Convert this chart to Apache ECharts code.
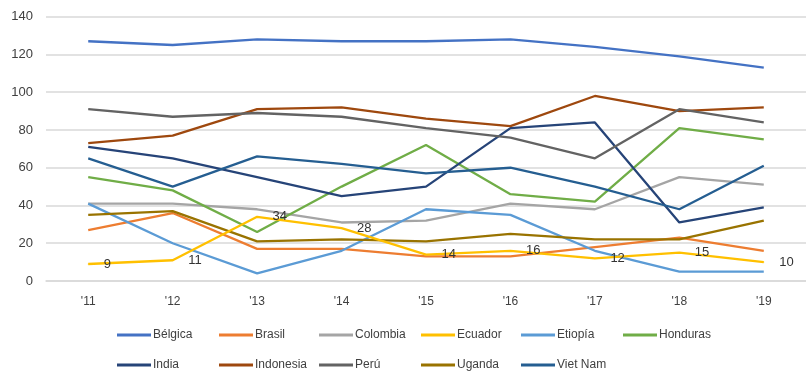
<!DOCTYPE html>
<html>
<head>
<meta charset="utf-8">
<script src="https://cdn.jsdelivr.net/npm/echarts@6/dist/echarts.min.js"></script>
<style>
  html, body { margin: 0; padding: 0; background: #fff; }
  #chart { width: 806px; height: 373px; }
</style>
</head>
<body>
<div id="chart"></div>
<script>
// Year categories along the x axis
const years = ["'11", "'12", "'13", "'14", "'15", "'16", "'17", "'18", "'19"];

// Values per country
const belgica   = [127, 125, 128, 127, 127, 128, 124, 119, 113];
const brasil    = [27, 36, 17, 17, 13, 13, 18, 23, 16];
const colombia  = [41, 41, 38, 31, 32, 41, 38, 55, 51];
const ecuador   = [9, 11, 34, 28, 14, 16, 12, 15, 10];
const etiopia   = [41, 20, 4, 16, 38, 35, 16, 5, 5];
const honduras  = [55, 48, 26, 50, 72, 46, 42, 81, 75];
const india     = [71, 65, 55, 45, 50, 81, 84, 31, 39];
const indonesia = [73, 77, 91, 92, 86, 82, 98, 90, 92];
const peru      = [91, 87, 89, 87, 81, 76, 65, 91, 84];
const uganda    = [35, 37, 21, 22, 21, 25, 22, 22, 32];
const vietnam   = [65, 50, 66, 62, 57, 60, 50, 38, 61];

// Y axis range
const yMin = 0, yMax = 140, yStep = 20;

const FONT = '"Liberation Sans Narrow", "Liberation Sans", Arial, sans-serif';
const TEXT = '#404040';

const seriesDefs = [
  { name: 'Bélgica',   data: belgica,   color: '#4472C4' },
  { name: 'Brasil',    data: brasil,    color: '#ED7D31' },
  { name: 'Colombia',  data: colombia,  color: '#A5A5A5' },
  { name: 'Ecuador',   data: ecuador,   color: '#FFC000', labels: true },
  { name: 'Etiopía',   data: etiopia,   color: '#5B9BD5' },
  { name: 'Honduras',  data: honduras,  color: '#70AD47' },
  { name: 'India',     data: india,     color: '#264478' },
  { name: 'Indonesia', data: indonesia, color: '#9E480E' },
  { name: 'Perú',      data: peru,      color: '#636363' },
  { name: 'Uganda',    data: uganda,    color: '#997300' },
  { name: 'Viet Nam',  data: vietnam,   color: '#255E91' }
];

const series = seriesDefs.map(s => ({
  name: s.name,
  type: 'line',
  data: s.data,
  symbol: s.labels ? 'circle' : 'none',
  symbolSize: s.labels ? 1 : 0,
  showSymbol: !!s.labels,
  smooth: false,
  color: s.color,
  itemStyle: { color: s.color },
  lineStyle: { width: 2.3, color: s.color },
  z: s.labels ? 3 : 2,
  labelLayout: { hideOverlap: false },
  label: s.labels ? {
    show: true,
    position: 'right',
    distance: 15,
    color: '#333333',
    fontFamily: FONT,
    fontSize: 13,
    offset: [0, 3]
  } : { show: false }
}));

// Legend laid out as a fixed grid: six columns, two rows
const LEGEND_COLS = 6;
const legendColLeft = [117, 219, 319, 421, 521, 623];
const legendRowTop = [329, 359];

const legends = seriesDefs.map((s, i) => ({
  left: legendColLeft[i % LEGEND_COLS],
  top: legendRowTop[Math.floor(i / LEGEND_COLS)],
  padding: 0,
  itemWidth: 34,
  itemHeight: 3,
  itemGap: 0,
  icon: 'rect',
  textStyle: { color: TEXT, fontFamily: FONT, fontSize: 12, padding: [0, 0, 0, -3] },
  data: [{ name: s.name, itemStyle: { color: s.color } }]
}));

const chart = echarts.init(document.getElementById('chart'), null, { renderer: 'canvas' });
chart.setOption({
  backgroundColor: '#ffffff',
  animation: false,
  grid: { left: 46, right: -10, top: 16.7, bottom: 92, containLabel: false },
  legend: legends,
  xAxis: {
    type: 'category',
    data: years,
    boundaryGap: true,
    axisLine: { show: true, lineStyle: { color: '#D9D9D9', width: 1.5 } },
    axisTick: { show: false },
    axisLabel: { color: TEXT, fontFamily: FONT, fontSize: 12, margin: 15 }
  },
  yAxis: {
    type: 'value',
    min: yMin,
    max: yMax,
    interval: yStep,
    axisLine: { show: false },
    axisTick: { show: false },
    splitLine: { lineStyle: { color: '#D9D9D9', width: 1.5 } },
    axisLabel: { color: TEXT, fontFamily: FONT, fontSize: 13, margin: 13 }
  },
  series: series
});
</script>
</body>
</html>
